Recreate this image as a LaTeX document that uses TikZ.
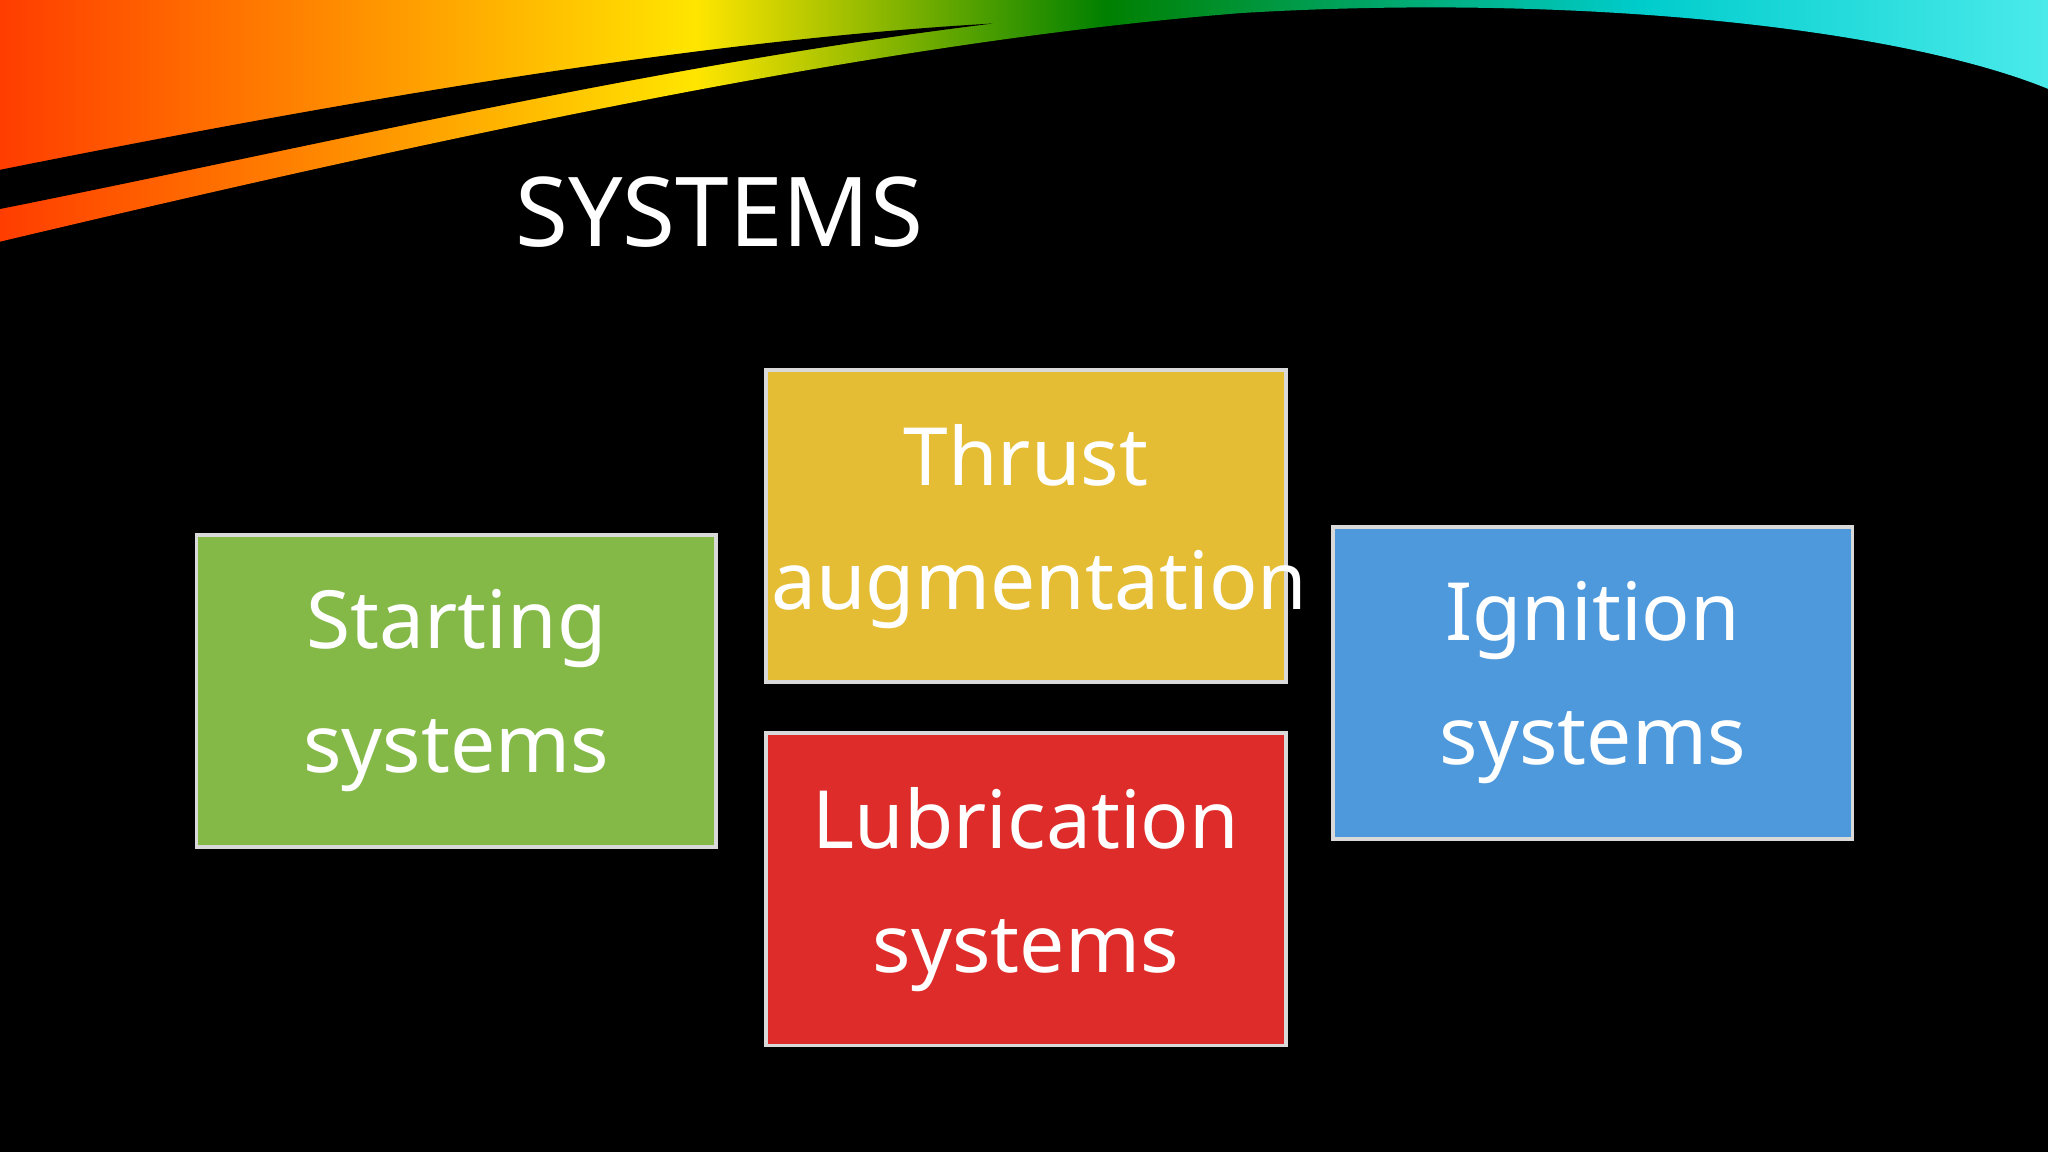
\documentclass[tikz,border=0pt]{standalone}
\usepackage{fontspec}
\setmainfont{Noto Sans}
\pgfdeclarehorizontalshading{swoosh}{100bp}{
 color(0bp)=(red!85!black); color(20bp)=(red!90!orange); color(32bp)=(orange); color(42bp)=(yellow!80!orange);
 color(52bp)=(green!50!black); color(65bp)=(cyan!60!teal); color(82bp)=(cyan!50!white); color(100bp)=(white!80!cyan)}
\definecolor{cgreen}{RGB}{132,185,72}
\definecolor{cyellow}{RGB}{229,189,52}
\definecolor{cred}{RGB}{221,44,41}
\definecolor{cblue}{RGB}{77,153,220}
\tikzset{box/.style={draw=white!85!black,line width=0.8pt,minimum width=39.8mm,minimum height=23.9mm,anchor=north west,inner sep=0pt,
 text=white,font=\fontsize{17.5}{27}\selectfont,align=center,text width=39mm}}
\begin{document}
\begin{tikzpicture}[x=0.1mm,y=-0.1mm]
\fill[black] (0,0) rectangle (1568,882);
\useasboundingbox (0,0) rectangle (1568,882);
\shade[shading=swoosh] (0,0) -- (1568,0) -- (1568,68) .. controls (1450,20) and (1200,-5) .. (950,10)
  .. controls (700,30) and (400,90) .. (0,185) -- cycle;
\fill[black] (0,130) .. controls (300,70) and (550,30) .. (760,18) .. controls (500,50) and (250,110) .. (0,160) -- cycle;
\node[text=white,font=\fontsize{21}{25}\selectfont,anchor=west] (title) at (382,162) {SYSTEMS};
\node[box,fill=cgreen] (start) at (149,408) {Starting\\systems};
\node[box,fill=cyellow] (thrust) at (585,282) {Thrust\\augmentation};
\node[box,fill=cred] (lub) at (585,560) {Lubrication\\systems};
\node[box,fill=cblue] (ign) at (1019,402) {Ignition\\systems};
\end{tikzpicture}
\end{document}
